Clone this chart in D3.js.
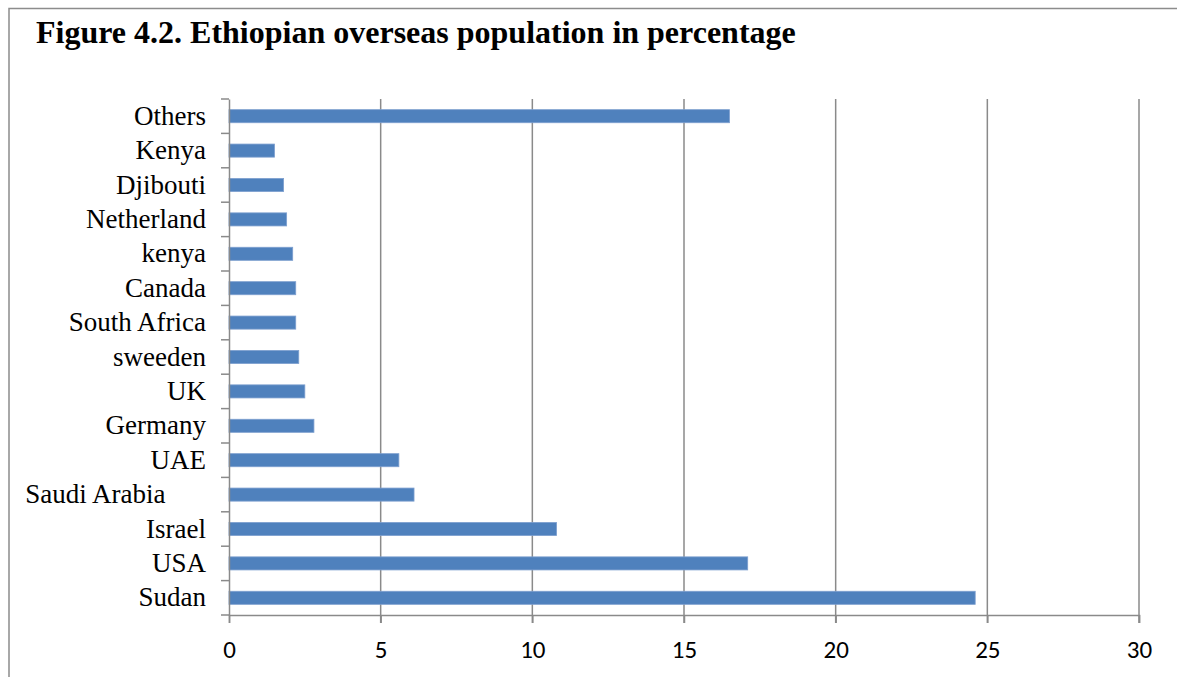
<!DOCTYPE html>
<html><head><meta charset="utf-8">
<script src="https://cdn.jsdelivr.net/npm/d3@7"></script>
<style>
html,body{margin:0;padding:0;background:#fff;}
svg{display:block;}
</style></head>
<body>
<script>
const title = "Figure 4.2. Ethiopian overseas population in percentage";
const categories = ["Sudan","USA","Israel","Saudi Arabia      ","UAE","Germany","UK","sweeden","South Africa","Canada","kenya","Netherland","Djibouti","Kenya","Others"];
const values = [24.6,17.1,10.8,6.1,5.6,2.8,2.5,2.3,2.2,2.2,2.1,1.9,1.8,1.5,16.5];
const xTicks = [0,5,10,15,20,25,30];

const W = 1177, H = 677;
const m = {left:229, right:38, top:99, bottom:62};
const svg = d3.select("body").append("svg").attr("width",W).attr("height",H);

// frame
svg.append("path").attr("d",`M9,${H+2} V8.5 H${W+2}`).attr("fill","none").attr("stroke","#8c8c8c").attr("stroke-width",1.5);

svg.append("text").attr("x",36).attr("y",43)
  .attr("font-family","'Liberation Serif','Times New Roman',serif").attr("font-weight","bold")
  .attr("font-size",32).attr("fill","#000").text(title);

const x = d3.scaleLinear().domain([0,30]).range([m.left, W-m.right]);
const y = d3.scaleBand().domain(categories.slice().reverse()).range([m.top, H-m.bottom]).paddingInner(0.62).paddingOuter(0.31);
const yb = d3.scaleBand().domain(categories.slice().reverse()).range([m.top, H-m.bottom]);

// gridlines
svg.append("g").selectAll("line").data(xTicks.filter(d=>d>0)).join("line")
  .attr("x1",d=>x(d)).attr("x2",d=>x(d)).attr("y1",m.top).attr("y2",H-m.bottom+8)
  .attr("stroke","#8a8a8a").attr("stroke-width",1.5);

// bars
svg.append("g").selectAll("rect").data(categories.map((c,i)=>({c,v:values[i]}))).join("rect")
  .attr("x",x(0)).attr("y",d=>y(d.c)).attr("width",d=>x(d.v)-x(0)).attr("height",y.bandwidth())
  .attr("fill","#4f81bd").attr("stroke","#7d9fcf").attr("stroke-width",0.8);

// x axis
const xAxis = svg.append("g").attr("transform",`translate(0,${H-m.bottom})`)
  .call(d3.axisBottom(x).tickValues(xTicks).tickSize(8).tickPadding(17));
xAxis.select(".domain").attr("stroke","#8a8a8a").attr("stroke-width",1.5);
xAxis.selectAll(".tick line").attr("stroke","#8a8a8a").attr("stroke-width",1.5);
xAxis.selectAll(".tick text").attr("font-family","Carlito,'Open Sans','Liberation Sans',sans-serif").attr("font-size",25).attr("fill","#000");

// y axis
const yAxis = svg.append("g").attr("transform",`translate(${m.left},0)`)
  .call(d3.axisLeft(yb).tickSize(0).tickPadding(23));
yAxis.select(".domain").attr("stroke","#8a8a8a").attr("stroke-width",1.5);
yAxis.selectAll(".tick text").attr("font-family","'Liberation Serif','Times New Roman',serif").attr("font-size",27).attr("fill","#000").style("white-space","pre");
// y tick marks at band boundaries
const bounds = categories.map(c=>yb(c)).concat([H-m.bottom]);
svg.append("g").selectAll("line").data(bounds).join("line")
  .attr("x1",m.left-8).attr("x2",m.left).attr("y1",d=>d).attr("y2",d=>d)
  .attr("stroke","#8a8a8a").attr("stroke-width",1.5);
</script>
</body></html>
